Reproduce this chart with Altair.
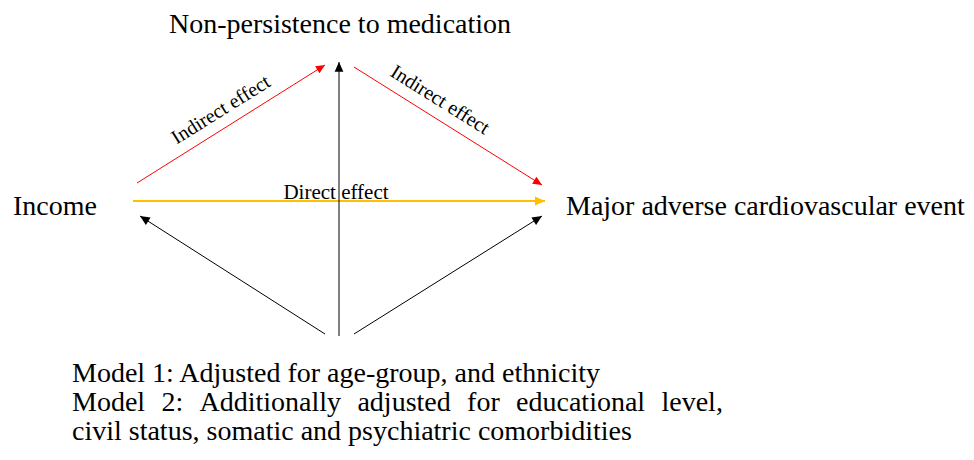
import math
import altair as alt
import pandas as pd

# ---------------- content ----------------
node_labels = ["Non-persistence to medication", "Income", "Major adverse cardiovascular event"]
edge_labels = ["Indirect effect", "Indirect effect", "Direct effect"]
note_lines = [
    "Model 1: Adjusted for age-group, and ethnicity",
    "Model 2: Additionally adjusted for educational level,",
    "civil status, somatic and psychiatric comorbidities",
]
edge_kind = ["indirect", "indirect", "direct", "adjust", "adjust", "adjust"]

# ---------------- layout (page pixel space) ----------------
W, H = 974, 460
M = 8
node_pos = [(340, 33, "center"), (13, 215, "left"), (566, 215, "left")]
edge_label_pos = [(221, 110, -32), (440, 100, 32), (336, 193, 0)]
note_pos = [(72, 382), (72, 411), (72, 440)]
arrow_pos = [
    ((137, 183), (325, 65)),
    ((354, 67), (542, 185)),
    ((133, 201), (545, 201)),
    ((339, 336), (339, 62)),
    ((325, 334), (140, 216)),
    ((354, 334), (542, 216)),
]
kind_style = {
    "indirect": ("#ff0000", 1.0, 330),
    "direct": ("#ffc000", 2.0, 400),
    "adjust": ("#000000", 1.0, 380),
}

FONT = "Liberation Serif"

# ---------------- tables ----------------
edges = []
for kind, ((x1, y1), (x2, y2)) in zip(edge_kind, arrow_pos):
    col, sw, hs = kind_style[kind]
    ang = math.degrees(math.atan2(x2 - x1, -(y2 - y1))) % 360
    edges.append(dict(x=x1, y=y1, x2=x2, y2=y2, color=col, sw=sw, head=hs, angle=ang))
edf = pd.DataFrame(edges)

tdf_left = pd.DataFrame(
    [dict(t=node_labels[i], x=node_pos[i][0], y=node_pos[i][1], s=28) for i in range(3) if node_pos[i][2] == "left"]
    + [dict(t=note_lines[i].replace(" ", " \u00a0\u200a") if i == 1 else note_lines[i],
            x=note_pos[i][0], y=note_pos[i][1], s=28) for i in range(3)]
)
tdf_center = pd.DataFrame(
    [dict(t=node_labels[i], x=node_pos[i][0], y=node_pos[i][1], s=28, a=0, b="alphabetic") for i in range(3) if node_pos[i][2] == "center"]
)
tdf_edge = pd.DataFrame(
    [dict(t=edge_labels[i], x=edge_label_pos[i][0], y=edge_label_pos[i][1],
          s=20 if i < 2 else 21, a=edge_label_pos[i][2] % 360) for i in range(3)]
)

xs = alt.Scale(domain=[M, W - M], nice=False, zero=False)
ys = alt.Scale(domain=[M, H - M], nice=False, zero=False, reverse=True)

X = lambda f="x": alt.X(f"{f}:Q", scale=xs, axis=None)
Y = lambda f="y": alt.Y(f"{f}:Q", scale=ys, axis=None)

lines = alt.Chart(edf).mark_rule().encode(
    x=X(), y=Y(), x2="x2:Q", y2="y2:Q",
    color=alt.Color("color:N", scale=None),
    strokeWidth=alt.StrokeWidth("sw:Q", scale=None),
)

heads = alt.Chart(edf).mark_point(
    shape="M0,0 L0.45,1 L-0.45,1 Z", filled=True, opacity=1, strokeWidth=0
).encode(
    x=X("x2"), y=Y("y2"),
    color=alt.Color("color:N", scale=None),
    size=alt.Size("head:Q", scale=None),
    angle=alt.Angle("angle:Q", scale=None),
)

t_left = alt.Chart(tdf_left).mark_text(align="left", baseline="alphabetic", font=FONT, color="black").encode(
    x=X(), y=Y(), text="t:N", size=alt.Size("s:Q", scale=None)
)
t_center = alt.Chart(tdf_center).mark_text(align="center", baseline="alphabetic", font=FONT, color="black").encode(
    x=X(), y=Y(), text="t:N", size=alt.Size("s:Q", scale=None)
)
t_edge = alt.Chart(tdf_edge).mark_text(align="center", baseline="middle", font=FONT, color="black").encode(
    x=X(), y=Y(), text="t:N", size=alt.Size("s:Q", scale=None), angle=alt.Angle("a:Q", scale=None)
)

chart = alt.layer(lines, heads, t_left, t_center, t_edge).properties(
    width=W - 2 * M, height=H - 2 * M, padding=0, autosize=alt.AutoSizeParams(type="none")
).configure_view(stroke=None)

chart.save("out.html", embed_options={"renderer": "svg", "actions": False})
